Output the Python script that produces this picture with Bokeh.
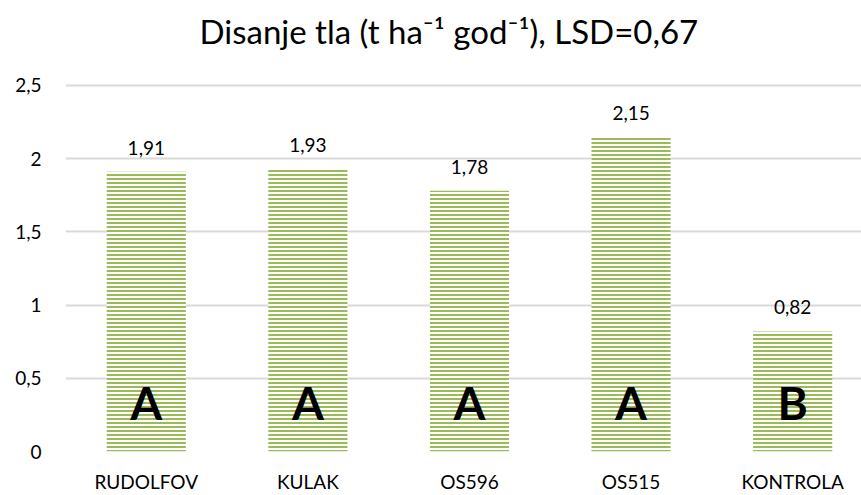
from bokeh.plotting import figure
from bokeh.models import FixedTicker, ColumnDataSource, Range1d
from bokeh.core.properties import value
from bokeh.embed import file_html
from bokeh.resources import INLINE

categories = ["RUDOLFOV", "KULAK", "OS596", "OS515", "KONTROLA"]
values = [1.91, 1.93, 1.78, 2.15, 0.82]
value_labels = ["1,91", "1,93", "1,78", "2,15", "0,82"]
groups = ["A", "A", "A", "A", "B"]
y_ticks = [0, 0.5, 1, 1.5, 2, 2.5]
y_tick_labels = ["0", "0,5", "1", "1,5", "2", "2,5"]

FONT = "Lato"
xs = list(range(len(categories)))
src = ColumnDataSource(dict(x=xs, top=values, lab=value_labels, grp=groups,
                            zero=[0] * len(xs)))

p = figure(width=861, height=495, output_backend="svg", toolbar_location=None,
           x_range=Range1d(-0.5, 4.426), y_range=Range1d(0, 2.725),
           min_border_left=65, min_border_right=0, min_border_top=52,
           min_border_bottom=43)
p.title.text = "Disanje tla (t ha\u207b\u00b9 god\u207b\u00b9), LSD=0,67"
p.title.align = "left"
p.title.offset = 134
p.title.text_font = FONT
p.title.text_font_style = "normal"
p.title.text_font_size = "33px"
p.title.text_color = "#000000"
p.title.standoff = 3
p.outline_line_color = None

p.vbar(x="x", top="top", width=0.49, source=src, fill_color="white",
       line_color=None, hatch_pattern="horizontal_line", hatch_color="#9bbb59",
       hatch_scale=4, hatch_weight=2)

p.text(x="x", y="top", text="lab", source=src, text_align="center",
       text_baseline="alphabetic", y_offset=-24, text_font=value(FONT),
       text_font_size="19px", text_color="#000000")
p.text(x="x", y="zero", text="grp", source=src, text_align="center",
       text_baseline="alphabetic", y_offset=-49, text_font=value(FONT),
       text_font_size="46px", text_font_style="bold", text_color="#000000")

p.xaxis.ticker = FixedTicker(ticks=xs)
p.xaxis.major_label_overrides = {i: c for i, c in enumerate(categories)}
p.yaxis.ticker = FixedTicker(ticks=y_ticks)
p.yaxis.major_label_overrides = {t: l for t, l in zip(y_ticks, y_tick_labels)}
for ax in (p.xaxis, p.yaxis):
    ax.axis_line_color = None
    ax.major_tick_line_color = None
    ax.minor_tick_line_color = None
    ax.major_label_text_font = FONT
    ax.major_label_text_color = "#000000"
p.xaxis.major_label_text_font_size = "19px"
p.yaxis.major_label_text_font_size = "19px"
p.xaxis.major_label_standoff = 12
p.yaxis.major_label_standoff = 18
p.xgrid.grid_line_color = None
p.ygrid.ticker = FixedTicker(ticks=y_ticks)
p.ygrid.grid_line_color = "#d9d9d9"
p.ygrid.grid_line_width = 2

open("out.html", "w").write(file_html(p, INLINE))
